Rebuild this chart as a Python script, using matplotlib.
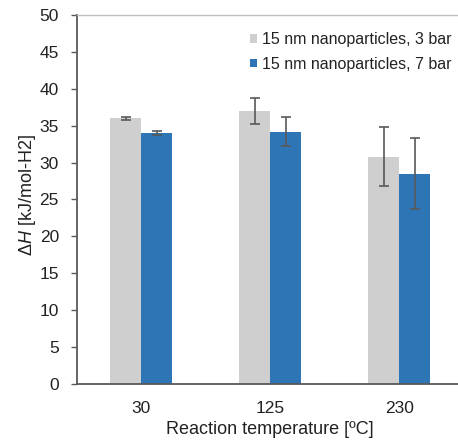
import matplotlib
matplotlib.use("Agg")
import matplotlib.pyplot as plt
import numpy as np

plt.rcParams['font.family'] = ['Liberation Sans', 'DejaVu Sans']
plt.rcParams['mathtext.fontset'] = 'custom'
plt.rcParams['mathtext.rm'] = 'Liberation Sans'
plt.rcParams['mathtext.it'] = 'Liberation Sans:italic'

categories = ['30', '125', '230']
series_names = ['15 nm nanoparticles, 3 bar', '15 nm nanoparticles, 7 bar']
vals_3bar = [36.0, 37.0, 30.8]
err_3bar = [0.2, 1.8, 4.0]
vals_7bar = [34.0, 34.2, 28.5]
err_7bar = [0.3, 2.0, 4.85]
yticks = [0, 5, 10, 15, 20, 25, 30, 35, 40, 45, 50]

fig = plt.figure(figsize=(4.58, 4.41), dpi=100)
ax = fig.add_axes([77/458, 1 - 384/441, (463.5 - 77)/458, (384 - 15)/441])

x = np.arange(len(categories))
w = 0.24
gray = '#d0cfd0'
blue = '#2e75b6'
ekw = dict(ecolor='#595959', elinewidth=1.2, capsize=3.5, capthick=1.2)
ax.bar(x - w/2, vals_3bar, w, color=gray, yerr=err_3bar, error_kw=ekw, label=series_names[0])
ax.bar(x + w/2, vals_7bar, w, color=blue, yerr=err_7bar, error_kw=ekw, label=series_names[1])

ax.set_xlim(-0.5, 2.5)
ax.set_ylim(0, 50)
ax.set_yticks(yticks)
ax.set_xticks(x)
ax.set_xticklabels(categories)
ax.tick_params(axis='y', direction='out', length=4, width=1, color='#595959', labelsize=12.5, pad=9, labelcolor='#222222')
ax.tick_params(axis='x', length=0, labelsize=12.5, pad=12, labelcolor='#222222')

for s in ['left', 'bottom']:
    ax.spines[s].set_color('#595959')
    ax.spines[s].set_linewidth(1.3)
ax.spines['top'].set_color('#bfbfbf')
ax.spines['top'].set_linewidth(1.0)
ax.spines['right'].set_visible(False)

ax.set_ylabel(r'$\Delta\mathit{H}$ [kJ/mol-H2]', fontsize=13, color='#222222')
ax.yaxis.set_label_coords(-0.102, 0.512)
ax.set_xlabel('Reaction temperature [ºC]', fontsize=13, color='#222222', labelpad=4)

# legend anchored in figure pixel coords
leg = ax.legend(loc='upper right', bbox_to_anchor=(452/458, 1 - 32/441),
                bbox_transform=fig.transFigure,
                frameon=False, fontsize=11.5, handlelength=0.45, handleheight=0.45,
                handletextpad=0.35, labelspacing=0.6, borderaxespad=0.0, borderpad=0.0)
for t in leg.get_texts():
    t.set_color('#222222')

fig.savefig('out.png', dpi=100)
